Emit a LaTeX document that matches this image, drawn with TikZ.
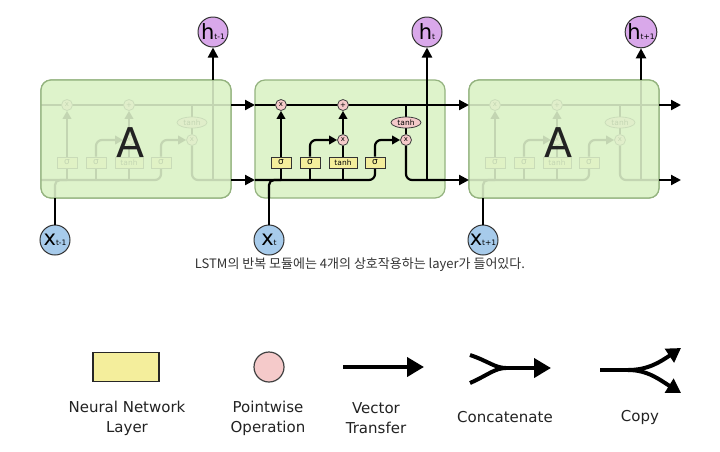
\documentclass[tikz,border=0pt]{standalone}
\usepackage{fontspec}
\setmainfont{DejaVu Sans}
\newfontfamily\krfont{Noto Sans CJK KR}
\usetikzlibrary{arrows.meta,shapes.geometric}
\pgfdeclarelayer{bg}\pgfdeclarelayer{boxes}\pgfdeclarelayer{lines}\pgfdeclarelayer{over}\pgfdeclarelayer{top}
\pgfsetlayers{bg,boxes,lines,main,over,top}
\definecolor{cellg}{HTML}{DEF3CB}
\definecolor{cellb}{HTML}{94B37F}
\definecolor{gatey}{HTML}{F4EE9C}
\definecolor{opk}{HTML}{F5CACA}
\definecolor{hpur}{HTML}{D9A8EA}
\definecolor{xblu}{HTML}{A7CBEB}
\definecolor{txt}{HTML}{222222}
\tikzset{
  cellbox/.style={draw=cellb, fill=cellg, line width=1.2pt, rounded corners=10pt},
  ln/.style={line width=2.2pt, black},
  arr/.style={ln, -{Triangle[length=10pt,width=10pt]}},
  iarr/.style={ln, -{Triangle[length=8pt,width=8.5pt]}},
  gate/.style={draw=black!80, fill=gatey, line width=0.8pt, minimum width=20pt, minimum height=11pt, inner sep=0pt, font=\fontsize{9}{9}\selectfont},
  pw/.style={circle, draw=black!75, fill=opk, line width=0.8pt, minimum size=11pt, inner sep=0pt, font=\fontsize{7}{7}\selectfont},
  tanhop/.style={ellipse, draw=black!75, fill=opk, line width=0.8pt, minimum width=30pt, minimum height=11pt, inner sep=0pt, font=\fontsize{7.5}{7.5}\selectfont},
  hcirc/.style={circle, draw=black!80, fill=hpur, line width=1pt, minimum size=30pt, inner sep=0pt},
  xcirc/.style={circle, draw=black!80, fill=xblu, line width=1pt, minimum size=30pt, inner sep=0pt},
  lgtext/.style={align=center, text=txt, font=\fontsize{15}{20}\selectfont},
  lgln/.style={line width=4pt, black},
  lgarr/.style={lgln, -{Triangle[length=17pt,width=19pt]}},
  lgarr2/.style={lgln, -{Triangle[length=14pt,width=16pt]}},
}
\newcommand\hlab[1]{{\fontsize{21}{21}\selectfont h}{\fontsize{7.5}{7.5}\selectfont #1}}
\newcommand\xlab[1]{{\fontsize{21}{21}\selectfont x}{\fontsize{7.5}{7.5}\selectfont #1}}
\newcommand\lstmcell[2]{%
\begin{scope}[shift={(#2,0)}]
  \coordinate (#1-ci) at (0,105);
  \coordinate (#1-co) at (190,105);
  \coordinate (#1-hi) at (0,180);
  \coordinate (#1-ho) at (190,180);
  \coordinate (#1-top) at (172,80);
  \coordinate (#1-hj) at (172,180);
  \coordinate (#1-bot) at (14,198);
  \coordinate (#1-xj) at (26,180);
  \coordinate (#1-tj) at (151,105);
  \begin{pgfonlayer}{boxes}
    \draw[cellbox] (0,80) rectangle (190,198);
  \end{pgfonlayer}
  \node[pw] (#1-f) at (26,105) {x};
  \node[pw] (#1-p) at (88,105) {+};
  \node[pw] (#1-i) at (88,140) {x};
  \node[pw] (#1-o) at (151,140) {x};
  \node[tanhop] (#1-te) at (151,122.5) {tanh};
  \node[gate] (#1-s1) at (26,162.5) {σ};
  \node[gate] (#1-s2) at (55,162.5) {σ};
  \node[gate, minimum width=28pt, font=\fontsize{7.5}{7.5}\selectfont] (#1-tb) at (88,162.5) {tanh};
  \node[gate] (#1-s3) at (120,162.5) {σ};
  \begin{pgfonlayer}{lines}
    \draw[ln] (#1-ci) -- (#1-co);
    \draw[ln, rounded corners=6pt] (#1-hi) -| (#1-s3.south);
    \draw[ln, rounded corners=5pt] (#1-bot) |- (#1-xj);
    \draw[ln] (#1-s1.south) -- (#1-s1.south |- #1-hi);
    \draw[ln] (#1-s2.south) -- (#1-s2.south |- #1-hi);
    \draw[ln] (#1-tb.south) -- (#1-tb.south |- #1-hi);
    \draw[iarr] (#1-s1.north) -- (#1-f.south);
    \draw[iarr, rounded corners=6pt] (#1-s2.north) |- (#1-i.west);
    \draw[ln] (#1-tb.north) -- (#1-i.south);
    \draw[iarr] (#1-i.north) -- (#1-p.south);
    \draw[iarr, rounded corners=6pt] (#1-s3.north) |- (#1-o.west);
    \draw[ln] (#1-tj) -- (#1-te.north);
    \draw[ln] (#1-te.south) -- (#1-o.north);
    \draw[ln, rounded corners=6pt] (#1-o.south) |- (#1-ho);
    \draw[ln] (#1-hj) -- (#1-top);
  \end{pgfonlayer}
\end{scope}}
\newcommand\fadecell[2]{%
\begin{scope}[shift={(#2,0)}]
  \begin{pgfonlayer}{over}
    \draw[cellbox, fill opacity=0.88] (0,80) rectangle (190,198);
    \node[text=txt, font=\fontsize{41}{41}\selectfont] (#1-A) at (90,143) {A};
  \end{pgfonlayer}
\end{scope}}
\begin{document}
\begin{tikzpicture}[x=1pt,y=-1pt]
\useasboundingbox (0,0) rectangle (720,451);
\begin{pgfonlayer}{bg}
\fill[white] (0,0) rectangle (720,451);
\end{pgfonlayer}
\lstmcell{L}{41}
\lstmcell{M}{255}
\lstmcell{R}{469}
\fadecell{L}{41}
\fadecell{R}{469}
\node[hcirc] (hL) at (213,32) {\hlab{t-1}};
\node[hcirc] (hM) at (427,32) {\hlab{t}};
\node[hcirc] (hR) at (641,32) {\hlab{t+1}};
\node[xcirc] (xL) at (55,240) {\xlab{t-1}};
\node[xcirc] (xM) at (269,240) {\xlab{t}};
\node[xcirc] (xR) at (483,240) {\xlab{t+1}};
\coordinate (endc) at (681,105);
\coordinate (endh) at (681,180);
\begin{pgfonlayer}{top}
  \draw[arr] (L-top) -- (hL.south);
  \draw[arr] (M-top) -- (hM.south);
  \draw[arr] (R-top) -- (hR.south);
  \draw[ln] (xL.north) -- (L-bot);
  \draw[ln] (xM.north) -- (M-bot);
  \draw[ln] (xR.north) -- (R-bot);
  \draw[arr] (L-co) -- (M-ci);
  \draw[arr] (L-ho) -- (M-hi);
  \draw[arr] (M-co) -- (R-ci);
  \draw[arr] (M-ho) -- (R-hi);
  \draw[arr] (R-co) -- (endc);
  \draw[arr] (R-ho) -- (endh);
\end{pgfonlayer}
\node[text=black!80, font=\krfont\fontsize{13}{13}\selectfont] (cap) at (360,265) {LSTM의 반복 모듈에는 4개의 상호작용하는 layer가 들어있다.};
% legend
\node[draw=black!85, fill=gatey, line width=1.5pt, minimum width=66pt, minimum height=29pt, inner sep=0pt] (lgNN) at (126,367) {};
\node[lgtext] (lgNNt) at (127,418) {Neural Network\\Layer};
\node[circle, draw=black!75, fill=opk, line width=1.2pt, minimum size=30pt, inner sep=0pt] (lgPW) at (269,367) {};
\node[lgtext] (lgPWt) at (268,418) {Pointwise\\Operation};
\coordinate (vA) at (343,367);
\coordinate (vB) at (424,367);
\draw[lgarr] (vA) -- (vB);
\node[lgtext] (lgVt) at (376,418) {Vector\\Transfer};
\coordinate (cA) at (470,355);
\coordinate (cB) at (470,383);
\coordinate (cJ) at (506,368);
\coordinate (cE) at (551,368);
\draw[lgln] (cA) .. controls (488,361) and (495,368) .. (cJ);
\draw[lgln] (cB) .. controls (488,375) and (495,368) .. (cJ);
\draw[lgarr] (cJ) -- (cE);
\node[lgtext] (lgCt) at (505,417) {Concatenate};
\coordinate (pA) at (600,370);
\coordinate (pJ) at (628,370);
\coordinate (pU) at (681,348);
\coordinate (pD) at (681,393);
\draw[lgln] (pA) -- (pJ);
\draw[lgarr2] (pJ) .. controls (648,370) and (660,362) .. (pU);
\draw[lgarr2] (pJ) .. controls (648,370) and (660,380) .. (pD);
\node[lgtext] (lgPt) at (640,417) {Copy};
\end{tikzpicture}
\end{document}
